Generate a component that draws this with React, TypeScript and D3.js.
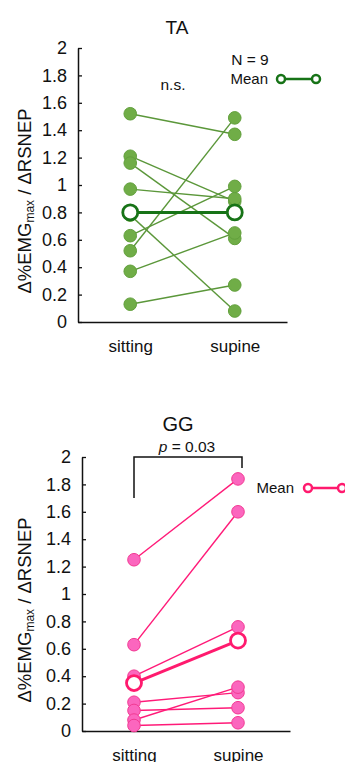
import React from 'react';
import * as d3 from 'd3';

// conditions on the x axis
const positions = ['sitting', 'supine'];
const yTicks = [0, 0.2, 0.4, 0.6, 0.8, 1, 1.2, 1.4, 1.6, 1.8, 2];

// TA, one value per subject
const taSitting = [1.52, 1.21, 1.16, 0.97, 0.63, 0.52, 0.37, 0.13, 0.78];
const taSupine = [1.37, 0.88, 0.61, 0.9, 0.99, 1.49, 0.65, 0.27, 0.08];
const taMean = [0.8, 0.8];

// GG, one value per subject
const ggSitting = [1.25, 0.63, 0.4, 0.21, 0.15, 0.08, 0.04];
const ggSupine = [1.84, 1.6, 0.76, 0.28, 0.17, 0.32, 0.06];
const ggMean = [0.35, 0.66];

const font = 'Liberation Sans, Arial, sans-serif';

type PanelOpts = {
    sitting: number[];
    supine: number[];
    mean: number[];
    top: number;
    bottom: number;
    left: number;
    right: number;
    fill: string;
    stroke: string;
    lineColor: string;
    meanColor: string;
};

function drawPanel(svg: d3.Selection<SVGSVGElement, unknown, null, undefined>, o: PanelOpts) {
    const g = svg.append('g');

    const x = d3.scalePoint<string>().domain(positions).range([o.left, o.right]).padding(0.5);
    const y = d3.scaleLinear().domain([0, 2]).range([o.bottom, o.top]);

    // y axis, ticks point inward
    const yAxis = g.append('g')
        .attr('transform', `translate(${o.left},0)`)
        .call(d3.axisLeft(y).tickValues(yTicks).tickFormat(d => String(d)).tickSizeInner(-4).tickSizeOuter(0).tickPadding(11));
    yAxis.attr('font-family', font).attr('font-size', 18);
    yAxis.selectAll('text').attr('fill', '#111');
    yAxis.select('.domain').attr('stroke', '#111').attr('stroke-width', 1.5);
    yAxis.selectAll('.tick line').attr('stroke', '#111').attr('stroke-width', 1.3);

    // x axis, no ticks
    const xAxis = g.append('g')
        .attr('transform', `translate(0,${o.bottom})`)
        .call(d3.axisBottom(x).tickSize(0).tickPadding(18));
    xAxis.attr('font-family', font).attr('font-size', 17);
    xAxis.selectAll('text').attr('fill', '#111').attr('dy', '0.71em');
    xAxis.select('.domain').attr('stroke', '#111').attr('stroke-width', 1.5);

    const pairs = o.sitting.map((s, i) => [s, o.supine[i]]);

    // subject lines
    g.selectAll('line.subj')
        .data(pairs)
        .enter()
        .append('line')
        .attr('class', 'subj')
        .attr('x1', x('sitting')!)
        .attr('x2', x('supine')!)
        .attr('y1', d => y(d[0]))
        .attr('y2', d => y(d[1]))
        .attr('stroke', o.lineColor)
        .attr('stroke-width', 1.4);

    // subject points
    const pts = pairs.flatMap(d => [{ k: 'sitting', v: d[0] }, { k: 'supine', v: d[1] }]);
    g.selectAll('circle.subj')
        .data(pts)
        .enter()
        .append('circle')
        .attr('class', 'subj')
        .attr('cx', d => x(d.k)!)
        .attr('cy', d => y(d.v))
        .attr('r', 6.3)
        .attr('fill', o.fill)
        .attr('stroke', o.stroke)
        .attr('stroke-width', 1);

    // mean
    g.append('line')
        .attr('x1', x('sitting')!)
        .attr('x2', x('supine')!)
        .attr('y1', y(o.mean[0]))
        .attr('y2', y(o.mean[1]))
        .attr('stroke', o.meanColor)
        .attr('stroke-width', 3);
    g.selectAll('circle.mean')
        .data(o.mean)
        .enter()
        .append('circle')
        .attr('class', 'mean')
        .attr('cx', (d, i) => x(positions[i])!)
        .attr('cy', d => y(d))
        .attr('r', 7.5)
        .attr('fill', '#fff')
        .attr('stroke', o.meanColor)
        .attr('stroke-width', 2.8);

    // y label
    const cy = (o.top + o.bottom) / 2 + 16;
    const lab = g.append('text')
        .attr('transform', `translate(31,${cy}) rotate(-90)`)
        .attr('text-anchor', 'middle')
        .attr('font-family', font)
        .attr('font-size', 18.5)
        .attr('fill', '#111');
    lab.append('tspan').text('Δ%EMG');
    lab.append('tspan').attr('font-size', 12).attr('dy', 3).text('max');
    lab.append('tspan').attr('dy', -3).text(' / ΔRSNEP');

    return { g, x, y };
}

function drawLegend(g: d3.Selection<SVGGElement, unknown, null, undefined>, tx: number, ty: number, x1: number, x2: number, color: string) {
    g.append('text')
        .attr('x', tx)
        .attr('y', ty + 5)
        .attr('text-anchor', 'end')
        .attr('font-family', font)
        .attr('font-size', 15)
        .attr('fill', '#111')
        .text('Mean');
    g.append('line')
        .attr('x1', x1).attr('x2', x2)
        .attr('y1', ty).attr('y2', ty)
        .attr('stroke', color).attr('stroke-width', 2.5);
    [x1, x2].forEach(cx => {
        g.append('circle')
            .attr('cx', cx).attr('cy', ty).attr('r', 4)
            .attr('fill', '#fff').attr('stroke', color).attr('stroke-width', 2.5);
    });
}

export default function App() {
    const ref = React.useRef<SVGSVGElement>(null);

    React.useEffect(() => {
        if (!ref.current) return;
        const svg = d3.select(ref.current);
        svg.selectAll('*').remove();

        // ---- TA ----
        const ta = drawPanel(svg, {
            sitting: taSitting, supine: taSupine, mean: taMean,
            top: 48, bottom: 322, left: 78, right: 287,
            fill: '#70ad47', stroke: '#62a03c', lineColor: '#5b973a', meanColor: '#177317'
        });
        ta.g.append('text')
            .attr('x', 177).attr('y', 34)
            .attr('text-anchor', 'middle')
            .attr('font-family', font).attr('font-size', 19).attr('fill', '#111')
            .text('TA');
        ta.g.append('text')
            .attr('x', 173).attr('y', 90)
            .attr('text-anchor', 'middle')
            .attr('font-family', font).attr('font-size', 15.5).attr('fill', '#111')
            .text('n.s.');
        ta.g.append('text')
            .attr('x', 250).attr('y', 65)
            .attr('text-anchor', 'middle')
            .attr('font-family', font).attr('font-size', 15.5).attr('fill', '#111')
            .text('N = 9');
        drawLegend(ta.g, 268, 79, 281, 316, '#177317');

        // ---- GG ----
        const gg = drawPanel(svg, {
            sitting: ggSitting, supine: ggSupine, mean: ggMean,
            top: 457, bottom: 731, left: 82, right: 290,
            fill: '#fb66be', stroke: '#f23a93', lineColor: '#ff1a78', meanColor: '#ff1a6e'
        });
        gg.g.append('text')
            .attr('x', 178).attr('y', 431)
            .attr('text-anchor', 'middle')
            .attr('font-family', font).attr('font-size', 20).attr('fill', '#111')
            .text('GG');
        const p = gg.g.append('text')
            .attr('x', 187).attr('y', 452)
            .attr('text-anchor', 'middle')
            .attr('font-family', font).attr('font-size', 15.5).attr('fill', '#111');
        p.append('tspan').attr('font-style', 'italic').text('p');
        p.append('tspan').text(' = 0.03');

        // significance bracket
        const bx1 = gg.x('sitting')!;
        const bx2 = gg.x('supine')! + 4;
        gg.g.append('path')
            .attr('d', `M${bx1},${gg.y(1.7)} V${gg.y(2)} H${bx2} V${gg.y(1.92)}`)
            .attr('fill', 'none')
            .attr('stroke', '#111')
            .attr('stroke-width', 1.5);

        drawLegend(gg.g, 294, 488, 308, 342, '#ff1a6e');
    }, []);

    return (
        <svg ref={ref} width={345} height={762}
            style={{ position: 'absolute', left: 0, top: 0, background: '#fff' }} />
    );
}
